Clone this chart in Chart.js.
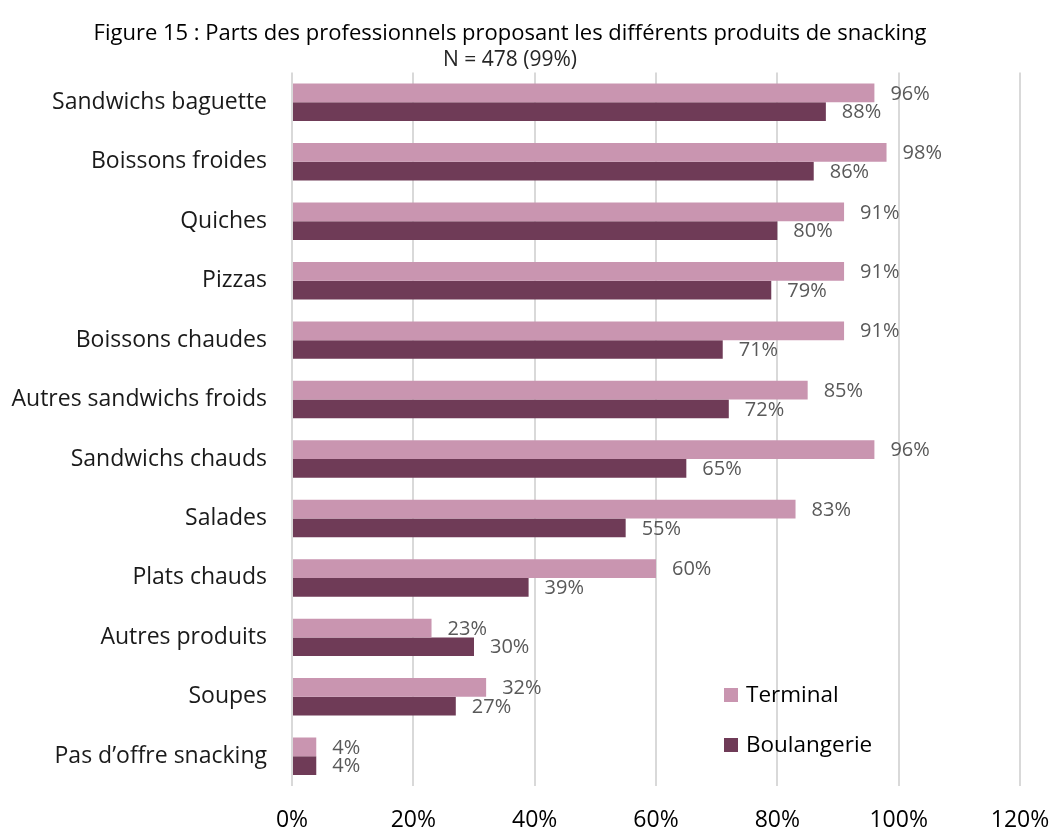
<!DOCTYPE html>
<html>
<head>
<meta charset="utf-8">
<script src="https://cdn.jsdelivr.net/npm/chart.js@4.4.1/dist/chart.umd.min.js"></script>
<style>
    html, body { margin: 0; padding: 0; background: #fff; }
    #wrap { width: 1051px; height: 833px; }
</style>
</head>
<body>
<div id="wrap"><canvas id="chart" width="1051" height="833"></canvas></div>
<script>
const categories = [
    "Sandwichs baguette", "Boissons froides", "Quiches", "Pizzas", "Boissons chaudes",
    "Autres sandwichs froids", "Sandwichs chauds", "Salades", "Plats chauds",
    "Autres produits", "Soupes", "Pas d\u2019offre snacking"
];
const terminal = [96, 98, 91, 91, 91, 85, 96, 83, 60, 23, 32, 4];
const boulangerie = [88, 86, 80, 79, 71, 72, 65, 55, 39, 30, 27, 4];
const xTicks = [0, 20, 40, 60, 80, 100, 120];

const fontFamily = "'Open Sans', Lato, sans-serif";

// étiquettes de valeur à droite des barres
const valueLabels = {
    id: "valueLabels",
    afterDatasetsDraw(chart) {
        const ctx = chart.ctx;
        ctx.save();
        ctx.font = "20px " + fontFamily;
        ctx.fillStyle = "#595959";
        ctx.textAlign = "left";
        ctx.textBaseline = "middle";
        chart.data.datasets.forEach((ds, i) => {
            chart.getDatasetMeta(i).data.forEach((bar, j) => {
                ctx.fillText(ds.data[j] + "%", bar.x + 16, bar.y + 1);
            });
        });
        ctx.restore();
    }
};

// légende dans la zone du graphique, en bas à droite
const insideLegend = {
    id: "insideLegend",
    afterDraw(chart) {
        const ctx = chart.ctx;
        const area = chart.chartArea;
        const x0 = area.left + 432;
        let y = area.bottom - 91;
        ctx.save();
        ctx.font = "22.5px " + fontFamily;
        ctx.textBaseline = "middle";
        chart.data.datasets.forEach(ds => {
            ctx.fillStyle = ds.backgroundColor;
            ctx.fillRect(x0, y - 7, 14, 14);
            ctx.fillStyle = "#000";
            ctx.fillText(ds.label, x0 + 22, y + 1);
            y += 50;
        });
        ctx.restore();
    }
};

const chart = new Chart(document.getElementById("chart"), {
    type: "bar",
    data: {
        labels: categories,
        datasets: [
            { label: "Terminal", data: terminal, backgroundColor: "#C995B0", categoryPercentage: 0.63, barPercentage: 1 },
            { label: "Boulangerie", data: boulangerie, backgroundColor: "#6F3B57", categoryPercentage: 0.63, barPercentage: 1 }
        ]
    },
    options: {
        indexAxis: "y",
        responsive: false,
        animation: false,
        layout: { padding: { left: 0, right: 31, top: 0, bottom: 0 } },
        plugins: {
            legend: { display: false },
            tooltip: { enabled: false },
            title: {
                display: true,
                text: "Figure 15 : Parts des professionnels proposant les différents produits de snacking",
                color: "#000",
                font: { family: fontFamily, size: 22, weight: "normal", lineHeight: 1.2 },
                padding: { top: 21, bottom: 0 }
            },
            subtitle: {
                display: true,
                text: "N = 478 (99%)",
                color: "#262626",
                font: { family: fontFamily, size: 21, lineHeight: 1.2 },
                padding: { top: 0, bottom: 0 }
            }
        },
        scales: {
            x: {
                min: 0,
                max: 120,
                afterBuildTicks(scale) { scale.ticks = xTicks.map(v => ({ value: v })); },
                afterFit(scale) {
                    scale.height = 47;
                    scale.paddingLeft = 0;
                    scale.paddingRight = 0;
                },
                grid: { color: "#d9d9d9", lineWidth: 2, drawTicks: false },
                border: { display: false },
                ticks: {
                    padding: 21,
                    color: "#000",
                    font: { family: fontFamily, size: 23 },
                    callback: v => v + "%"
                }
            },
            y: {
                afterFit(scale) { scale.width = 292; },
                grid: { display: false, drawTicks: false },
                border: { display: false },
                ticks: {
                    padding: 25,
                    color: "#1a1a1a",
                    font: { family: fontFamily, size: 23 }
                }
            }
        }
    },
    plugins: [valueLabels, insideLegend]
});
</script>
</body>
</html>
